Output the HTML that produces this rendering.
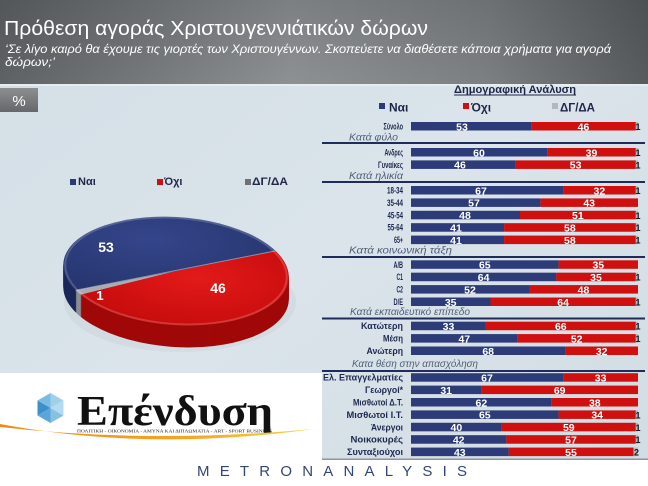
<!DOCTYPE html>
<html>
<head>
<meta charset="utf-8">
<style>
html,body{margin:0;padding:0;background:#fff;}
svg{display:block;}
</style>
</head>
<body>
<svg width="648" height="486" viewBox="0 0 648 486" xmlns="http://www.w3.org/2000/svg" font-family="Liberation Sans, DejaVu Sans, sans-serif">
<defs>
  <linearGradient id="hdr" x1="0" y1="0" x2="1" y2="0">
    <stop offset="0" stop-color="#5e6264"/>
    <stop offset="0.45" stop-color="#8d9193"/>
    <stop offset="0.75" stop-color="#7c8082"/>
    <stop offset="1" stop-color="#575b5d"/>
  </linearGradient>
  <linearGradient id="hdrv" x1="0" y1="0" x2="0" y2="1">
    <stop offset="0" stop-color="#000" stop-opacity="0.12"/>
    <stop offset="1" stop-color="#000" stop-opacity="0"/>
  </linearGradient>
  <linearGradient id="bg" x1="0" y1="0" x2="1" y2="1">
    <stop offset="0" stop-color="#d3dee6"/>
    <stop offset="0.5" stop-color="#dae4ea"/>
    <stop offset="1" stop-color="#d2dce3"/>
  </linearGradient>
  <linearGradient id="pct" x1="0" y1="0" x2="0" y2="1">
    <stop offset="0" stop-color="#8c8e90"/>
    <stop offset="1" stop-color="#65686a"/>
  </linearGradient>
  <linearGradient id="swoosh" x1="0" y1="0" x2="1" y2="0">
    <stop offset="0" stop-color="#f08a14"/>
    <stop offset="0.6" stop-color="#f5a623"/>
    <stop offset="1" stop-color="#f8d44a"/>
  </linearGradient>
  <radialGradient id="redTop" cx="0.55" cy="0.4" r="0.7">
    <stop offset="0" stop-color="#e21a1a"/>
    <stop offset="1" stop-color="#c40a0a"/>
  </radialGradient>
  <radialGradient id="blueTop" cx="0.4" cy="0.3" r="0.8">
    <stop offset="0" stop-color="#34458a"/>
    <stop offset="1" stop-color="#25346c"/>
  </radialGradient>
  <g id="pieSide">
    <g transform="translate(176,271) rotate(4) scale(1,0.478)">
      <path d="M0,0 L97.86,-56.5 A113,113 0 0 1 -93.68,63.19 Z" fill="#a00909"/>
      <path d="M0,0 L-93.68,63.19 A113,113 0 0 1 -98.83,54.78 Z" fill="#8a8e94"/>
      <path d="M0,0 L-98.83,54.78 A113,113 0 0 1 97.86,-56.5 Z" fill="#1c2858"/>
    </g>
  </g>
</defs>

<!-- backgrounds -->
<rect x="0" y="0" width="648" height="486" fill="url(#bg)"/>
<rect x="0" y="0" width="648" height="84" fill="url(#hdr)"/>
<rect x="0" y="0" width="648" height="84" fill="url(#hdrv)"/>
<rect x="0" y="84" width="648" height="2" fill="#e6ecef"/>

<!-- title -->
<text x="4" y="35" font-size="20" fill="#ffffff" textLength="424" lengthAdjust="spacingAndGlyphs">Πρόθεση αγοράς Χριστουγεννιάτικών δώρων</text>
<text x="5" y="53" font-size="12" font-style="italic" fill="#ffffff" textLength="606" lengthAdjust="spacingAndGlyphs">‘Σε λίγο καιρό θα έχουμε τις γιορτές των Χριστουγέννων. Σκοπεύετε να διαθέσετε κάποια χρήματα για αγορά</text>
<text x="5" y="66" font-size="12" font-style="italic" fill="#ffffff" textLength="50" lengthAdjust="spacingAndGlyphs">δώρων;’</text>

<!-- % box -->
<rect x="0" y="88" width="38" height="24" fill="url(#pct)"/>
<text x="19" y="106" font-size="15" fill="#ffffff" text-anchor="middle">%</text>

<!-- pie legend -->
<rect x="70" y="179" width="6" height="6" fill="#2b3a78"/>
<text x="78" y="185" font-size="11" font-weight="bold" fill="#22284a">Ναι</text>
<rect x="157" y="179" width="6" height="6" fill="#d01010"/>
<text x="164" y="185" font-size="11" font-weight="bold" fill="#22284a">Όχι</text>
<rect x="245" y="179" width="6" height="6" fill="#6e7276"/>
<text x="252" y="185" font-size="11" font-weight="bold" fill="#22284a" textLength="36" lengthAdjust="spacingAndGlyphs">ΔΓ/ΔΑ</text>

<!-- pie shadow -->
<ellipse cx="180" cy="302" rx="116" ry="50" fill="#9aa6b0" opacity="0.12"/>

<!-- pie side (extrusion) -->
<use href="#pieSide" y="22"/>
<use href="#pieSide" y="21"/>
<use href="#pieSide" y="20"/>
<use href="#pieSide" y="19"/>
<use href="#pieSide" y="18"/>
<use href="#pieSide" y="17"/>
<use href="#pieSide" y="16"/>
<use href="#pieSide" y="15"/>
<use href="#pieSide" y="14"/>
<use href="#pieSide" y="13"/>
<use href="#pieSide" y="12"/>
<use href="#pieSide" y="11"/>
<use href="#pieSide" y="10"/>
<use href="#pieSide" y="9"/>
<use href="#pieSide" y="8"/>
<use href="#pieSide" y="7"/>
<use href="#pieSide" y="6"/>
<use href="#pieSide" y="5"/>
<use href="#pieSide" y="4"/>
<use href="#pieSide" y="3"/>
<use href="#pieSide" y="2"/>
<use href="#pieSide" y="1"/>

<!-- pie top -->
<g transform="translate(176,271) rotate(4) scale(1,0.478)">
  <path d="M0,0 L97.86,-56.5 A113,113 0 0 1 -93.68,63.19 Z" fill="url(#redTop)"/>
  <path d="M0,0 L-93.68,63.19 A113,113 0 0 1 -98.83,54.78 Z" fill="#a9adb2"/>
  <path d="M0,0 L-98.83,54.78 A113,113 0 0 1 97.86,-56.5 Z" fill="url(#blueTop)"/>
  <path d="M-98.83,54.78 L97.86,-56.5" stroke="#c8ccd4" stroke-width="1" fill="none" vector-effect="non-scaling-stroke" opacity="0.6"/>
  <circle cx="0" cy="0" r="111" fill="none" stroke="#ffffff" stroke-opacity="0.18" stroke-width="2" vector-effect="non-scaling-stroke"/>
</g>
<text x="106" y="252" font-size="14" font-weight="bold" fill="#ffffff" text-anchor="middle">53</text>
<text x="218" y="293" font-size="14" font-weight="bold" fill="#ffffff" text-anchor="middle">46</text>
<text x="100" y="300" font-size="13" font-weight="bold" fill="#ffffff" text-anchor="middle">1</text>

<!-- right legend -->
<text x="454" y="93" font-size="11" font-weight="bold" fill="#1e2648" textLength="122" lengthAdjust="spacingAndGlyphs">Δημογραφική Ανάλυση</text>
<rect x="454" y="94.5" width="122" height="1" fill="#1e2648"/>
<rect x="379" y="103" width="6" height="6" fill="#2b3a78"/>
<text x="389" y="111.5" font-size="12" font-weight="bold" fill="#1e2648">Ναι</text>
<rect x="463" y="103" width="6" height="6" fill="#d01010"/>
<text x="471" y="111.5" font-size="12" font-weight="bold" fill="#1e2648">Όχι</text>
<rect x="552" y="103" width="6" height="6" fill="#b4b8bc"/>
<text x="560" y="111.5" font-size="12" font-weight="bold" fill="#1e2648" textLength="35" lengthAdjust="spacingAndGlyphs">ΔΓ/ΔΑ</text>

<!-- section separators -->
<g fill="#1f2b58">
  <rect x="322" y="142" width="323" height="2"/>
  <rect x="322" y="181" width="323" height="2"/>
  <rect x="322" y="256" width="323" height="2"/>
  <rect x="322" y="317.5" width="323" height="2"/>
  <rect x="322" y="370" width="323" height="2"/>
</g>

<!-- category labels -->
<g font-size="10" font-style="italic" fill="#4f5f75">
  <text x="349" y="140.5" textLength="49" lengthAdjust="spacingAndGlyphs">Κατά φύλο</text>
  <text x="349" y="179" textLength="54" lengthAdjust="spacingAndGlyphs">Κατά ηλικία</text>
  <text x="349" y="253.5" textLength="103" lengthAdjust="spacingAndGlyphs">Κατά κοινωνική τάξη</text>
  <text x="350" y="315" textLength="120" lengthAdjust="spacingAndGlyphs">Κατά εκπαιδευτικό επίπεδο</text>
  <text x="352" y="367" textLength="126" lengthAdjust="spacingAndGlyphs">Κατα θέση στην απασχόληση</text>
</g>

<!-- row labels -->
<g font-size="9" font-weight="bold" fill="#1d2850" text-anchor="end">
  <text x="403" y="129.5" textLength="19.5" lengthAdjust="spacingAndGlyphs">Σύνολο</text>
  <text x="403" y="155.5" textLength="18.5" lengthAdjust="spacingAndGlyphs">Ανδρες</text>
  <text x="403" y="168" textLength="25" lengthAdjust="spacingAndGlyphs">Γυναίκες</text>
  <text x="403" y="193.5" textLength="16" lengthAdjust="spacingAndGlyphs">18-34</text>
  <text x="403" y="206" textLength="16" lengthAdjust="spacingAndGlyphs">35-44</text>
  <text x="403" y="218.3" textLength="15.5" lengthAdjust="spacingAndGlyphs">45-54</text>
  <text x="403" y="230.7" textLength="15.5" lengthAdjust="spacingAndGlyphs">55-64</text>
  <text x="403" y="243.1" textLength="9" lengthAdjust="spacingAndGlyphs">65+</text>
  <text x="403" y="267.8" textLength="9.5" lengthAdjust="spacingAndGlyphs">A/B</text>
  <text x="403" y="280.2" textLength="6.5" lengthAdjust="spacingAndGlyphs">C1</text>
  <text x="403" y="292.6" textLength="6.5" lengthAdjust="spacingAndGlyphs">C2</text>
  <text x="403" y="305" textLength="9.5" lengthAdjust="spacingAndGlyphs">D/E</text>
  <text x="403" y="329.2" textLength="42" lengthAdjust="spacingAndGlyphs">Κατώτερη</text>
  <text x="403" y="341.6" textLength="20" lengthAdjust="spacingAndGlyphs">Μέση</text>
  <text x="403" y="354" textLength="36.5" lengthAdjust="spacingAndGlyphs">Ανώτερη</text>
  <text x="403" y="380.7" textLength="80" lengthAdjust="spacingAndGlyphs">Ελ. Επαγγελματίες</text>
  <text x="403" y="393.1" textLength="38" lengthAdjust="spacingAndGlyphs">Γεωργοί*</text>
  <text x="403" y="405.5" textLength="50" lengthAdjust="spacingAndGlyphs">Μισθωτοί Δ.Τ.</text>
  <text x="403" y="417.9" textLength="56.5" lengthAdjust="spacingAndGlyphs">Μισθωτοί Ι.Τ.</text>
  <text x="403" y="430.3" textLength="32" lengthAdjust="spacingAndGlyphs">Άνεργοι</text>
  <text x="403" y="442.7" textLength="52.5" lengthAdjust="spacingAndGlyphs">Νοικοκυρές</text>
  <text x="403" y="455.1" textLength="56" lengthAdjust="spacingAndGlyphs">Συνταξιούχοι</text>
</g>

<!-- bars -->
<g>
  <rect x="411" y="122" width="227" height="8.5" fill="#b4b8bc"/>
  <rect x="411" y="122" width="120.3" height="8.5" fill="#2d3c78"/>
  <rect x="531.3" y="122" width="104.4" height="8.5" fill="#d00f0f"/>
  <rect x="411" y="148" width="227" height="8.5" fill="#b4b8bc"/>
  <rect x="411" y="148" width="136.2" height="8.5" fill="#2d3c78"/>
  <rect x="547.2" y="148" width="88.5" height="8.5" fill="#d00f0f"/>
  <rect x="411" y="160.4" width="227" height="8.5" fill="#b4b8bc"/>
  <rect x="411" y="160.4" width="104.4" height="8.5" fill="#2d3c78"/>
  <rect x="515.4" y="160.4" width="120.3" height="8.5" fill="#d00f0f"/>
  <rect x="411" y="186" width="227" height="8.5" fill="#b4b8bc"/>
  <rect x="411" y="186" width="152.1" height="8.5" fill="#2d3c78"/>
  <rect x="563.1" y="186" width="72.6" height="8.5" fill="#d00f0f"/>
  <rect x="411" y="198.4" width="129.4" height="8.5" fill="#2d3c78"/>
  <rect x="540.4" y="198.4" width="97.6" height="8.5" fill="#d00f0f"/>
  <rect x="411" y="210.8" width="227" height="8.5" fill="#b4b8bc"/>
  <rect x="411" y="210.8" width="109" height="8.5" fill="#2d3c78"/>
  <rect x="520" y="210.8" width="115.7" height="8.5" fill="#d00f0f"/>
  <rect x="411" y="223.2" width="227" height="8.5" fill="#b4b8bc"/>
  <rect x="411" y="223.2" width="93.1" height="8.5" fill="#2d3c78"/>
  <rect x="504.1" y="223.2" width="131.6" height="8.5" fill="#d00f0f"/>
  <rect x="411" y="235.6" width="227" height="8.5" fill="#b4b8bc"/>
  <rect x="411" y="235.6" width="93.1" height="8.5" fill="#2d3c78"/>
  <rect x="504.1" y="235.6" width="131.6" height="8.5" fill="#d00f0f"/>
  <rect x="411" y="260.3" width="147.6" height="8.5" fill="#2d3c78"/>
  <rect x="558.6" y="260.3" width="79.4" height="8.5" fill="#d00f0f"/>
  <rect x="411" y="272.7" width="227" height="8.5" fill="#b4b8bc"/>
  <rect x="411" y="272.7" width="145.3" height="8.5" fill="#2d3c78"/>
  <rect x="556.3" y="272.7" width="79.4" height="8.5" fill="#d00f0f"/>
  <rect x="411" y="285.1" width="118" height="8.5" fill="#2d3c78"/>
  <rect x="529" y="285.1" width="109" height="8.5" fill="#d00f0f"/>
  <rect x="411" y="297.5" width="227" height="8.5" fill="#b4b8bc"/>
  <rect x="411" y="297.5" width="79.5" height="8.5" fill="#2d3c78"/>
  <rect x="490.5" y="297.5" width="145.2" height="8.5" fill="#d00f0f"/>
  <rect x="411" y="321.7" width="227" height="8.5" fill="#b4b8bc"/>
  <rect x="411" y="321.7" width="74.9" height="8.5" fill="#2d3c78"/>
  <rect x="485.9" y="321.7" width="149.8" height="8.5" fill="#d00f0f"/>
  <rect x="411" y="334.1" width="227" height="8.5" fill="#b4b8bc"/>
  <rect x="411" y="334.1" width="106.7" height="8.5" fill="#2d3c78"/>
  <rect x="517.7" y="334.1" width="118" height="8.5" fill="#d00f0f"/>
  <rect x="411" y="346.5" width="154.4" height="8.5" fill="#2d3c78"/>
  <rect x="565.4" y="346.5" width="72.6" height="8.5" fill="#d00f0f"/>
  <rect x="411" y="373.2" width="152.1" height="8.5" fill="#2d3c78"/>
  <rect x="563.1" y="373.2" width="74.9" height="8.5" fill="#d00f0f"/>
  <rect x="411" y="385.6" width="70.4" height="8.5" fill="#2d3c78"/>
  <rect x="481.4" y="385.6" width="156.6" height="8.5" fill="#d00f0f"/>
  <rect x="411" y="398" width="140.7" height="8.5" fill="#2d3c78"/>
  <rect x="551.7" y="398" width="86.3" height="8.5" fill="#d00f0f"/>
  <rect x="411" y="410.4" width="227" height="8.5" fill="#b4b8bc"/>
  <rect x="411" y="410.4" width="147.6" height="8.5" fill="#2d3c78"/>
  <rect x="558.6" y="410.4" width="77.1" height="8.5" fill="#d00f0f"/>
  <rect x="411" y="422.8" width="227" height="8.5" fill="#b4b8bc"/>
  <rect x="411" y="422.8" width="90.8" height="8.5" fill="#2d3c78"/>
  <rect x="501.8" y="422.8" width="133.9" height="8.5" fill="#d00f0f"/>
  <rect x="411" y="435.2" width="227" height="8.5" fill="#b4b8bc"/>
  <rect x="411" y="435.2" width="95.3" height="8.5" fill="#2d3c78"/>
  <rect x="506.3" y="435.2" width="129.4" height="8.5" fill="#d00f0f"/>
  <rect x="411" y="447.6" width="227" height="8.5" fill="#b4b8bc"/>
  <rect x="411" y="447.6" width="97.6" height="8.5" fill="#2d3c78"/>
  <rect x="508.6" y="447.6" width="124.9" height="8.5" fill="#d00f0f"/>
</g>

<!-- bar values -->
<g font-size="10.5" font-weight="bold" fill="#ffffff" text-anchor="middle">
  <text x="462" y="130.3">53</text><text x="583.5" y="130.3">46</text>
  <text x="479" y="156.3">60</text><text x="591.5" y="156.3">39</text>
  <text x="460" y="168.7">46</text><text x="575.6" y="168.7">53</text>
  <text x="481" y="194.3">67</text><text x="599.4" y="194.3">32</text>
  <text x="474" y="206.7">57</text><text x="589.2" y="206.7">43</text>
  <text x="465" y="219.1">48</text><text x="577.9" y="219.1">51</text>
  <text x="456" y="231.5">41</text><text x="569.9" y="231.5">58</text>
  <text x="456" y="243.9">41</text><text x="569.9" y="243.9">58</text>
  <text x="484.8" y="268.6">65</text><text x="598.3" y="268.6">35</text>
  <text x="483.6" y="281">64</text><text x="596" y="281">35</text>
  <text x="470" y="293.4">52</text><text x="583.5" y="293.4">48</text>
  <text x="450.7" y="305.8">35</text><text x="563.1" y="305.8">64</text>
  <text x="448.5" y="330">33</text><text x="560.8" y="330">66</text>
  <text x="464.3" y="342.4">47</text><text x="576.7" y="342.4">52</text>
  <text x="488.2" y="354.8">68</text><text x="601.7" y="354.8">32</text>
  <text x="487" y="381.5">67</text><text x="600.6" y="381.5">33</text>
  <text x="446.2" y="393.9">31</text><text x="559.7" y="393.9">69</text>
  <text x="481.4" y="406.3">62</text><text x="594.8" y="406.3">38</text>
  <text x="484.8" y="418.7">65</text><text x="597.2" y="418.7">34</text>
  <text x="456.4" y="431.1">40</text><text x="568.8" y="431.1">59</text>
  <text x="458.7" y="443.5">42</text><text x="571" y="443.5">57</text>
  <text x="459.8" y="455.9">43</text><text x="571" y="455.9">55</text>
</g>
<g font-size="9" font-weight="bold" fill="#1a1a22" text-anchor="middle">
  <text x="638" y="130">1</text>
  <text x="638" y="156">1</text>
  <text x="638" y="168.4">1</text>
  <text x="638" y="194">1</text>
  <text x="638" y="218.8">1</text>
  <text x="638" y="231.2">1</text>
  <text x="638" y="243.6">1</text>
  <text x="638" y="280.7">1</text>
  <text x="638" y="305.5">1</text>
  <text x="638" y="329.7">1</text>
  <text x="638" y="342.1">1</text>
  <text x="638" y="418.4">1</text>
  <text x="638" y="430.8">1</text>
  <text x="638" y="443.2">1</text>
  <text x="636.5" y="455.6">2</text>
</g>

<!-- bottom white areas -->
<rect x="0" y="373" width="322" height="113" fill="#ffffff"/>
<rect x="0" y="460" width="648" height="26" fill="#ffffff"/>
<rect x="322" y="458.5" width="326" height="1.5" fill="#8c969e"/>

<!-- logo -->
<g transform="translate(50.5,408)">
  <polygon points="0,-15 13,-7.5 0,0" fill="#9fd0ea"/>
  <polygon points="0,-15 -13,-7.5 0,0" fill="#7cbbe0"/>
  <polygon points="-13,-7.5 -13,7.5 0,0" fill="#3d8fcb"/>
  <polygon points="-13,7.5 0,15 0,0" fill="#5aa6d8"/>
  <polygon points="0,15 13,7.5 0,0" fill="#86c0e3"/>
  <polygon points="13,7.5 13,-7.5 0,0" fill="#b3dbf0"/>
</g>
<text x="77" y="425" style="font-family:'Liberation Serif',serif" font-size="42" font-weight="bold" fill="#111111" textLength="196" lengthAdjust="spacingAndGlyphs">Επένδυση</text>
<path d="M0,424 Q150,452 314,429 Q150,444 0,427 Z" fill="url(#swoosh)"/>
<text x="77" y="432.5" style="font-family:'Liberation Serif',serif" font-size="4.6" fill="#222222" textLength="195" lengthAdjust="spacingAndGlyphs">ΠΟΛΙΤΙΚΗ - ΟΙΚΟΝΟΜΙΑ - ΑΜΥΝΑ ΚΑΙ ΔΙΠΛΩΜΑΤΙΑ - ART - SPORT BUSINESS</text>

<!-- METRONANALYSIS -->
<text x="197" y="476" font-size="15" fill="#33457a" textLength="270" lengthAdjust="spacing">METRONANALYSIS</text>
</svg>
</body>
</html>
